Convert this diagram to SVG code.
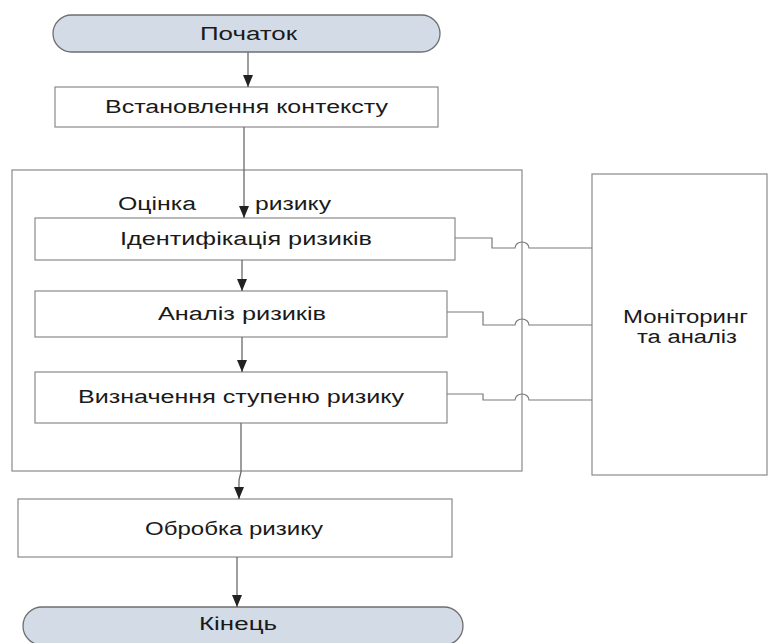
<svg xmlns="http://www.w3.org/2000/svg" width="769" height="643" viewBox="0 0 769 643">
<defs>
<style>
.box{fill:#ffffff;stroke:#8a8a8a;stroke-width:1.2}
.term{fill:#d3dce6;stroke:#6f6f6f;stroke-width:1.3}
.frame{fill:none;stroke:#8a8a8a;stroke-width:1.2}
.ln{fill:none;stroke:#7a7a7a;stroke-width:1.2}
.arr{fill:none;stroke:#6a6a6a;stroke-width:1.3;marker-end:url(#ah)}
text{font-family:"Liberation Sans",Arial,sans-serif;font-size:18px;fill:#1a1a1a}
.c{text-anchor:middle}
</style>
<marker id="ah" viewBox="0 0 12 10" refX="12" refY="5" markerWidth="13" markerHeight="10" markerUnits="userSpaceOnUse" orient="auto">
<path d="M0,0 L12,5 L0,10 z" fill="#222"/>
</marker>
</defs>
<rect width="769" height="643" fill="#ffffff"/>

<g id="risk-assessment">
<rect class="frame" x="12" y="170" width="510" height="301"/>
<text x="118" y="210" textLength="78" lengthAdjust="spacingAndGlyphs">Оцінка</text>
<text x="255" y="210" textLength="76" lengthAdjust="spacingAndGlyphs">ризику</text>
</g>

<g id="start">
<rect class="term" x="53" y="15" width="387" height="37" rx="18.5"/>
<text x="200" y="40" textLength="97" lengthAdjust="spacingAndGlyphs">Початок</text>
</g>

<g id="context">
<rect class="box" x="55" y="87" width="383" height="40"/>
<text x="105" y="113" textLength="283" lengthAdjust="spacingAndGlyphs">Встановлення контексту</text>
</g>

<g id="identification">
<rect class="box" x="35" y="218" width="420" height="42"/>
<text x="120" y="245" textLength="252" lengthAdjust="spacingAndGlyphs">Ідентифікація ризиків</text>
</g>

<g id="analysis">
<rect class="box" x="35" y="291" width="412" height="46"/>
<text x="158" y="320" textLength="168" lengthAdjust="spacingAndGlyphs">Аналіз ризиків</text>
</g>

<g id="evaluation">
<rect class="box" x="35" y="372" width="412" height="51"/>
<text x="78" y="403" textLength="326" lengthAdjust="spacingAndGlyphs">Визначення ступеню ризику</text>
</g>

<g id="treatment">
<rect class="box" x="18" y="499" width="434" height="58"/>
<text x="145" y="535" textLength="178" lengthAdjust="spacingAndGlyphs">Обробка ризику</text>
</g>

<g id="end">
<rect class="term" x="23" y="607" width="440" height="38" rx="19"/>
<text x="199" y="630" textLength="78" lengthAdjust="spacingAndGlyphs">Кінець</text>
</g>

<g id="monitoring">
<rect class="box" x="592" y="174" width="175" height="301"/>
<text x="623" y="323" textLength="125" lengthAdjust="spacingAndGlyphs">Моніторинг</text>
<text x="637" y="343" textLength="100" lengthAdjust="spacingAndGlyphs">та аналіз</text>
</g>

<g id="connectors">
<path class="arr" d="M248,52 V87"/>
<path class="arr" d="M244,127 V218"/>
<path class="arr" d="M242,260 V291"/>
<path class="arr" d="M242,337 V372"/>
<path class="arr" d="M241,423 V472 L239,480 V499"/>
<path class="arr" d="M237,557 V607"/>
<path class="ln" d="M455,238 H492 V248 H515 A7,6 0 0 1 529,248 H592"/>
<path class="ln" d="M447,312 H483 V325 H515 A7,6 0 0 1 529,325 H592"/>
<path class="ln" d="M447,394 H483 V400 H515 A7,6 0 0 1 529,400 H592"/>
</g>
</svg>
